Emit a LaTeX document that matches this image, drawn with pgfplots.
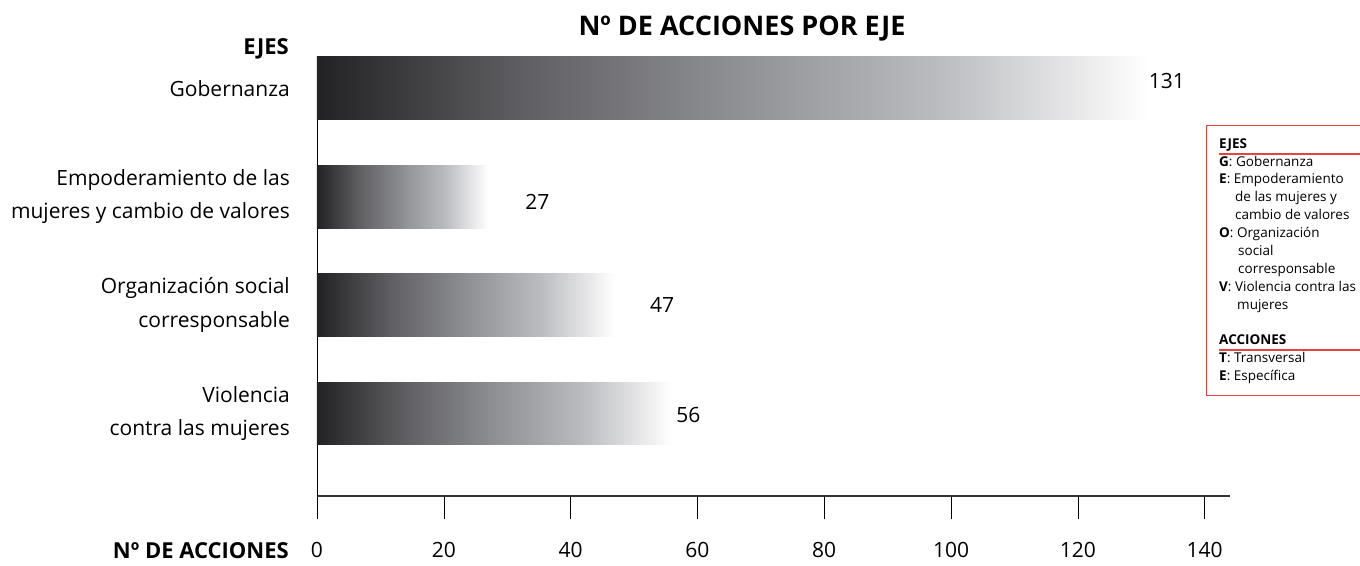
\documentclass[border=0pt]{standalone}
\usepackage{pgfplots}
\pgfplotsset{compat=1.18}
\usepackage{fontspec}
\setmainfont{Open Sans}
\definecolor{legred}{HTML}{E8423F}
\definecolor{cA}{HTML}{222224}
\definecolor{cB}{HTML}{606064}
\definecolor{cC}{HTML}{8E8F93}
\definecolor{cD}{HTML}{BBBCC0}
\pgfdeclarehorizontalshading{barshade}{100bp}{color(0bp)=(cA); color(25bp)=(cA); color(37.5bp)=(cB); color(50bp)=(cC); color(62.5bp)=(cD); color(75bp)=(white); color(100bp)=(white)}
\newcommand{\lblfont}{\fontsize{21}{33.5}\selectfont}
\begin{document}
\begin{tikzpicture}[x=1pt,y=1pt]
\useasboundingbox (0,0) rectangle (1360,565);
\clip (0,0) rectangle (1360,565);
\begin{axis}[
  at={(317pt,69pt)}, anchor=south west,
  scale only axis, width=913pt, height=439pt,
  xmin=0, xmax=144, ymin=0.238, ymax=4.29,
  axis x line*=bottom, axis y line*=left,
  x axis line style={black!80, line width=1.3pt},
  y axis line style={black, line width=0.8pt},
  xbar, bar width=0.58, bar shift=0pt,
  xtick={0,20,40,60,80,100,120,140},
  ytick={1,2,3,4},
  yticklabels={{Violencia\\contra las mujeres},{Organización social\\corresponsable},{Empoderamiento de las\\mujeres y cambio de valores},{Gobernanza}},
  tick align=outside,
  major tick length=23pt,
  xtick style={black, line width=0.6pt},
  ytick style={draw=none},
  /pgf/number format/assume math mode=true,
  yticklabel style={align=right, font=\lblfont, inner sep=0pt, xshift=-4pt},
  xticklabel style={font=\lblfont, anchor=center, yshift=-31pt},
  clip=false,
]
\addplot[draw=none, shading=barshade, nodes near coords, nodes near coords style={font=\lblfont, anchor=west, inner sep=0pt, xshift=1pt, yshift=7pt}] coordinates {(131,4)};
\addplot[draw=none, shading=barshade, nodes near coords, nodes near coords style={font=\lblfont, anchor=west, inner sep=0pt, xshift=37pt, yshift=-5pt}] coordinates {(27,3)};
\addplot[draw=none, shading=barshade, nodes near coords, nodes near coords style={font=\lblfont, anchor=west, inner sep=0pt, xshift=35pt, yshift=0pt}] coordinates {(47,2)};
\addplot[draw=none, shading=barshade, nodes near coords, nodes near coords style={font=\lblfont, anchor=west, inner sep=0pt, xshift=4pt, yshift=-2pt}] coordinates {(56,1)};
\end{axis}
% titles
\node[font=\bfseries\fontsize{27}{32}\selectfont, inner sep=0pt] at (742,536) {Nº DE ACCIONES POR EJE};
\node[font=\bfseries\fontsize{22}{26}\selectfont, anchor=east, inner sep=0pt] at (289,516) {EJES};
\node[font=\bfseries\fontsize{22}{26}\selectfont, anchor=east, inner sep=0pt] at (289,14) {Nº DE ACCIONES};
% legend box
\draw[legred, line width=1pt] (1206,439) rectangle (1380,169);
\begin{scope}[every node/.style={font=\fontsize{13.5}{16}\selectfont, anchor=mid west, inner sep=0pt}]
\node at (1219,419) {\textbf{EJES}};
\draw[legred, line width=1.2pt] (1219,411) -- (1362,411);
\node at (1219,401) {\textbf{G}: Gobernanza};
\node at (1219,384) {\textbf{E}: Empoderamiento};
\node at (1235,366) {de las mujeres y};
\node at (1235,348) {cambio de valores};
\node at (1219,330) {\textbf{O}: Organización};
\node at (1238,312) {social};
\node at (1238,294) {corresponsable};
\node at (1219,276) {\textbf{V}: Violencia contra las};
\node at (1237,258) {mujeres};
\node at (1219,223) {\textbf{ACCIONES}};
\draw[legred, line width=1.2pt] (1219,215) -- (1362,215);
\node at (1219,205) {\textbf{T}: Transversal};
\node at (1219,187) {\textbf{E}: Específica};
\end{scope}
\end{tikzpicture}
\end{document}
